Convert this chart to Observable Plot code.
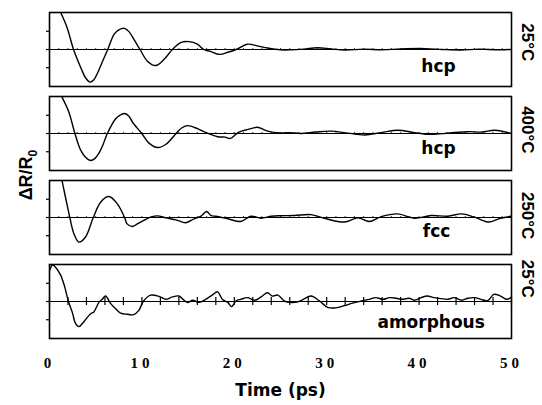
<!DOCTYPE html>
<html><head><meta charset="utf-8">
<script src="https://cdn.jsdelivr.net/npm/d3@7"></script>
<script src="https://cdn.jsdelivr.net/npm/@observablehq/plot@0.6"></script>
<style>body{margin:0;background:#fff}</style>
</head><body><div id="chart"></div>
<script>
// Panels (top to bottom)
const panelIds = ["p1", "p2", "p3", "p4"];
const tempLabels = ["25°C", "400°C", "250°C", "25°C"];
const phaseLabels = ["hcp", "hcp", "fcc", "amorphous"];
const tempLabelY = [0.4, 0.2, 0.1, 1.25];
const phaseLabelX = [42.1, 42.1, 41.9, 41.3];
const phaseLabelY = [-0.95, -0.85, -0.78, -1.15];

// Panel 1: 25°C hcp
const time1 = [0, 0.6, 1.2, 1.9, 2.6, 3.4, 3.9, 4.4, 4.8, 5.2, 5.7, 6.3, 7.0, 7.5, 8.1, 8.6, 9.2, 9.8, 10.6, 11.5, 12.4, 13.3, 14.2, 15.1, 16.0, 16.7, 17.4, 18.4, 19.3, 20.2, 21.4, 22.5, 23.6, 25.0, 26.1, 27.5, 29.0, 30.5, 32.0, 34.0, 36.0, 38.0, 40.6, 42.5, 44.5, 46.5, 48.5, 50];
const dr1 = [3.4, 2.75, 2.05, 1.21, 0, -1.01, -1.55, -1.79, -1.66, -1.29, -0.7, 0, 0.84, 1.08, 1.16, 0.98, 0.5, 0, -0.64, -0.88, -0.54, 0, 0.38, 0.43, 0.29, 0, -0.1, -0.27, -0.15, 0, 0.29, 0.2, 0.08, -0.02, -0.02, 0.02, 0.1, 0.03, -0.03, 0.02, -0.02, 0.03, 0.05, 0.0, -0.03, 0.02, -0.02, 0];

// Panel 2: 400°C hcp
const time2 = [0, 0.7, 1.37, 2.1, 2.75, 3.36, 3.9, 4.45, 4.9, 5.35, 5.8, 6.26, 7.16, 7.6, 8.13, 8.6, 8.97, 9.98, 10.8, 11.7, 12.6, 13.7, 14.3, 14.9, 16.0, 16.7, 17.2, 18.2, 19.0, 19.6, 20.4, 21.1, 21.8, 22.5, 23.6, 25.0, 26.1, 27.2, 28.8, 30.5, 32.3, 34.1, 35.9, 37.7, 39.5, 41.3, 43.3, 45.3, 46.8, 48.2, 50];
const dr2 = [3.3, 2.6, 1.98, 1.17, 0, -0.9, -1.3, -1.48, -1.38, -1.08, -0.6, 0, 0.81, 1.0, 1.1, 0.95, 0.63, 0, -0.54, -0.77, -0.59, 0, 0.3, 0.43, 0.27, 0.1, 0, -0.18, -0.2, -0.27, 0.05, 0.18, 0.27, 0.34, 0.13, 0.03, 0.05, 0, 0.08, 0.13, 0.02, -0.08, 0.05, 0.18, 0.05, -0.05, 0.03, 0.1, 0.08, 0.18, 0];

// Panel 3: 250°C fcc
const time3 = [0, 0.7, 1.37, 1.73, 2.2, 2.64, 3.18, 3.9, 4.74, 5.53, 6.43, 7.34, 8.13, 8.4, 8.97, 9.5, 10.2, 10.95, 11.7, 12.6, 13.7, 14.75, 15.65, 16.4, 17.0, 17.5, 18.0, 19.3, 20.7, 21.8, 22.9, 24.0, 25.0, 26.5, 28.3, 29.75, 31.9, 33.4, 34.6, 35.9, 37.7, 39.5, 41.3, 43.1, 44.6, 46.0, 47.6, 48.8, 50];
const dr3 = [4.5, 3.4, 1.98, 1.11, 0, -0.89, -1.35, -1.07, 0, 0.84, 1.15, 0.75, 0, -0.35, -0.49, -0.35, -0.16, 0.02, 0.09, -0.02, -0.13, -0.29, -0.07, 0.07, 0.33, 0.1, 0.07, -0.07, -0.22, 0.07, -0.04, 0.07, 0.1, 0.11, 0.16, -0.04, -0.25, -0.02, -0.22, 0.05, 0.2, -0.04, 0.11, 0.07, 0.2, 0.02, -0.25, -0.04, 0.07];

// Panel 4: 25°C amorphous
const time4 = [0, 0.35, 0.7, 1.19, 1.63, 2.05, 2.5, 2.8, 3.18, 3.7, 4.45, 4.8, 5.35, 5.7, 6.07, 6.6, 7.16, 7.7, 8.4, 9.1, 9.65, 10.2, 10.95, 11.9, 12.6, 13.3, 14.0, 14.9, 15.5, 16.2, 16.9, 17.6, 18.2, 18.7, 19.3, 19.7, 20.2, 20.7, 21.4, 22.2, 22.9, 23.6, 24.1, 24.7, 25.4, 26.0, 27.0, 28.3, 29.2, 30.1, 31.0, 31.9, 32.8, 33.9, 34.6, 35.3, 36.1, 36.8, 37.5, 38.2, 38.9, 39.5, 40.2, 40.9, 41.6, 42.4, 43.1, 43.8, 44.6, 45.3, 46.0, 46.7, 47.4, 48.1, 48.8, 49.5, 50];
const dr4 = [1.7, 2.0, 1.85, 1.46, 0.83, 0, -0.65, -1.19, -1.38, -1.12, -0.67, -0.57, -0.05, 0.12, 0.3, -0.1, -0.4, -0.64, -0.7, -0.72, -0.5, 0.04, 0.35, 0.27, 0.12, 0.25, 0.3, -0.05, 0.07, -0.05, 0.12, 0.35, 0.53, 0.12, -0.05, -0.28, 0.04, 0.12, 0.21, 0.07, 0.25, 0.48, 0.3, 0.35, 0.04, -0.05, 0, 0.3, 0.04, -0.32, -0.35, -0.23, -0.09, 0.04, 0.12, 0.21, 0.12, 0.21, 0.18, 0.12, 0.18, 0.07, 0.21, 0.3, 0.21, 0.16, 0.12, 0.21, 0.07, 0.18, 0.21, 0.12, 0.04, 0.39, 0.3, 0.12, 0.25];

const xTicks = [0, 10, 20, 30, 40, 50];
const yTicks = [-1, 0, 1];
const minorTickTimes = d3.range(0, 51, 1);
const majorTickTimes = d3.range(0, 51, 2);

const times = [time1, time2, time3, time4];
const values = [dr1, dr2, dr3, dr4];
const rows = [];
panelIds.forEach((p, i) => times[i].forEach((t, j) => rows.push({panel: p, t, v: values[i][j]})));
const panelRows = panelIds.map((p, i) => ({panel: p, temp: tempLabels[i], phase: phaseLabels[i], ty: tempLabelY[i], px: phaseLabelX[i], py: phaseLabelY[i]}));
const minorRows = [];
panelIds.slice(0, 3).forEach(p => minorTickTimes.forEach(t => minorRows.push({panel: p, t})));
const majorRows = majorTickTimes.map(t => ({panel: "p4", t}));

const chart = Plot.plot({
  width: 542, height: 405,
  marginLeft: 49, marginRight: 31, marginTop: 12, marginBottom: 67,
  style: {fontFamily: "Liberation Sans, Arial, sans-serif", color: "#000", background: "#fff"},
  x: {domain: [0, 50]},
  y: {domain: [-2.03, 2.03]},
  fy: {domain: panelIds, paddingInner: 0.12, paddingOuter: 0, axis: null},
  marks: [
    Plot.ruleY([0], {stroke: "#000", strokeWidth: 1.2}),
    Plot.ruleX(minorRows, {x: "t", fy: "panel", y1: -0.055, y2: 0.055, stroke: "#000", strokeWidth: 0.8}),
    Plot.ruleX(majorRows, {x: "t", fy: "panel", y1: -0.22, y2: 0.22, stroke: "#000", strokeWidth: 1.2}),
    Plot.line(rows, {x: "t", y: "v", fy: "panel", curve: "catmull-rom", clip: true, stroke: "#000", strokeWidth: 1.4}),
    Plot.frame({stroke: "#000", strokeWidth: 1.6}),
    Plot.axisY({ticks: yTicks, tickFormat: () => "", tickSize: 3, label: null, stroke: "#000", strokeWidth: 1.2}),
    Plot.axisX({ticks: xTicks, tickSize: 0, tickPadding: 19, label: "Time (ps)", labelAnchor: "center", labelArrow: "none", labelOffset: 57,
      fontFamily: "Liberation Serif, Times New Roman, serif", fontWeight: "bold", fontSize: 15}),
    Plot.text(panelRows, {fy: "panel", frameAnchor: "right", y: "ty", text: "temp", rotate: 90, dx: 16, textAnchor: "middle",
      fontWeight: "bold", fontSize: 17, fill: "#000"}),
    Plot.text(panelRows, {fy: "panel", x: "px", y: "py", text: "phase",
      fontFamily: "DejaVu Sans, sans-serif", fontWeight: "bold", fontSize: 17, fill: "#000"})
  ]
});

const svg = d3.select(chart);
svg.selectAll("[aria-label='x-axis tick label'] text").style("letter-spacing", "4px");
svg.selectAll("[aria-label='x-axis label'] text")
  .style("font-family", "DejaVu Sans, sans-serif").style("font-weight", "bold").style("font-size", "17px");
const ylab = svg.append("text")
  .attr("transform", "translate(27,175) rotate(-90)")
  .attr("text-anchor", "middle").attr("dominant-baseline", "middle")
  .style("font-family", "Liberation Sans, Arial, sans-serif").style("font-weight", "bold").style("font-size", "18px")
  .attr("fill", "#000");
ylab.append("tspan").text("ΔR/R");
ylab.append("tspan").attr("baseline-shift", "sub").style("font-size", "12px").text("0");

document.getElementById("chart").appendChild(chart);
</script>
</body></html>
